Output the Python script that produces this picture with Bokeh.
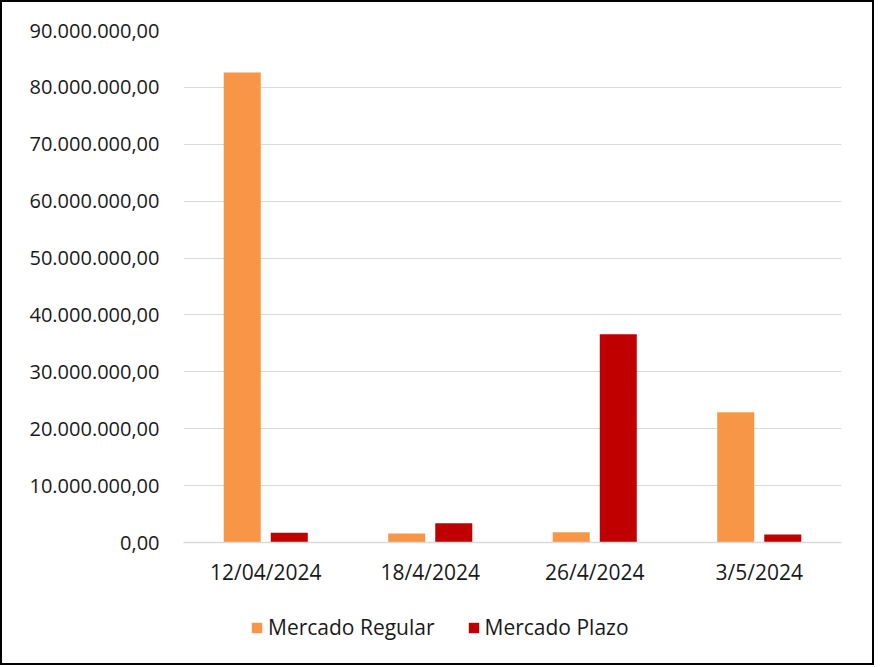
from bokeh.plotting import figure
from bokeh.models import ColumnDataSource, FixedTicker, Range1d, Legend, LegendItem
from bokeh.layouts import column
from bokeh.transform import dodge
from bokeh.embed import file_html
from bokeh.resources import INLINE

# ---- data ----
fechas = ["12/04/2024", "18/4/2024", "26/4/2024", "3/5/2024"]
mercado_regular = [82600000, 1600000, 1800000, 22900000]
mercado_plazo = [1700000, 3400000, 36600000, 1400000]
series_names = ["Mercado Regular", "Mercado Plazo"]
y_ticks = [0, 10000000, 20000000, 30000000, 40000000, 50000000,
           60000000, 70000000, 80000000, 90000000]
y_tick_labels = ["0,00", "10.000.000,00", "20.000.000,00", "30.000.000,00",
                 "40.000.000,00", "50.000.000,00", "60.000.000,00",
                 "70.000.000,00", "80.000.000,00", "90.000.000,00"]

COL_REG = "#F79646"
COL_PLA = "#C00000"
FONT = "Open Sans"
TXT = "#1a1a1a"
GRID = "#D9D9D9"

source = ColumnDataSource(dict(fecha=fechas, regular=mercado_regular, plazo=mercado_plazo))

p = figure(x_range=fechas, y_range=Range1d(0, 90000000),
           frame_width=658, frame_height=512, output_backend="svg", toolbar_location=None,
           min_border_left=181, min_border_right=31, min_border_top=28,
           min_border_bottom=60)
p.outline_line_color = None
p.background_fill_color = "white"
p.border_fill_color = "white"

r1 = p.vbar(x=dodge("fecha", -0.143, range=p.x_range), top="regular", width=0.225,
            source=source, fill_color=COL_REG, line_color=None)
r2 = p.vbar(x=dodge("fecha", 0.143, range=p.x_range), top="plazo", width=0.225,
            source=source, fill_color=COL_PLA, line_color=None)

# y axis
p.yaxis.ticker = FixedTicker(ticks=y_ticks)
p.yaxis.major_label_overrides = {t: l for t, l in zip(y_ticks, y_tick_labels)}
p.yaxis.axis_line_color = None
p.yaxis.major_tick_line_color = None
p.yaxis.minor_tick_line_color = None
p.yaxis.major_label_standoff = 18
p.yaxis.major_label_text_font = FONT
p.yaxis.major_label_text_font_size = "20px"
p.yaxis.major_label_text_color = TXT

# x axis
p.xaxis.axis_line_color = GRID
p.xaxis.axis_line_width = 1.5
p.xaxis.major_tick_line_color = None
p.xaxis.minor_tick_line_color = None
p.xaxis.major_label_standoff = 9
p.xaxis.major_label_text_font = FONT
p.xaxis.major_label_text_font_size = "21px"
p.xaxis.major_label_text_color = TXT

p.xgrid.grid_line_color = None
p.ygrid.grid_line_color = GRID
p.ygrid.grid_line_width = 1.2

# legend strip (separate figure below the chart); its zero-width bars lie
# outside its visible y range, so only the legend shows
p2 = figure(width=870, height=61, output_backend="svg", toolbar_location=None,
            x_range=p.x_range, y_range=Range1d(-2e9, -1e9),
            x_axis_type=None, y_axis_type=None, min_border=0)
p2.outline_line_color = None
p2.grid.visible = False
p2.background_fill_color = "white"
p2.border_fill_color = "white"
l1 = p2.vbar(x=dodge("fecha", -0.143, range=p2.x_range), top="regular", width=0,
             source=source, fill_color=COL_REG, line_color=None)
l2 = p2.vbar(x=dodge("fecha", 0.143, range=p2.x_range), top="plazo", width=0,
             source=source, fill_color=COL_PLA, line_color=None)

legend = Legend(items=[LegendItem(label=series_names[0], renderers=[l1]),
                       LegendItem(label=series_names[1], renderers=[l2])],
                orientation="horizontal", location=(67, 22),
                label_text_font=FONT, label_text_font_size="21px",
                label_text_color=TXT, glyph_width=13, glyph_height=13,
                label_standoff=5, spacing=32, border_line_color=None,
                background_fill_alpha=0, margin=0, padding=0)
p2.add_layout(legend, "center")

layout = column(p, p2, spacing=0)
layout.styles = {"border": "2px solid #000000"}

open("out.html", "w").write(file_html(layout, INLINE))
